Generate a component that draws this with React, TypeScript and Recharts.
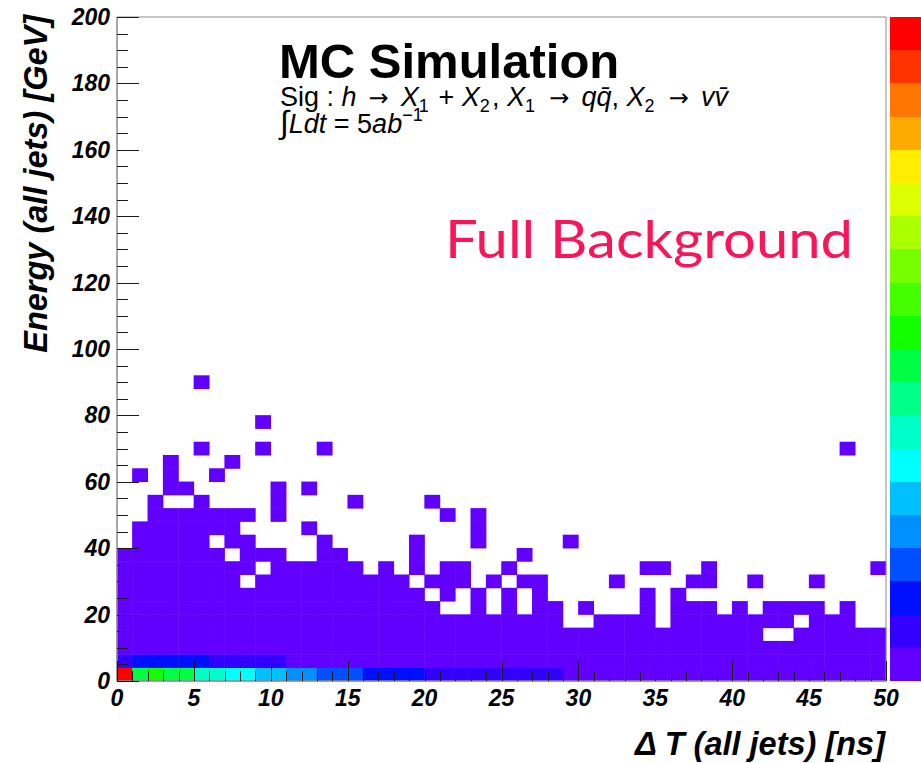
import { ScatterChart, Scatter, XAxis, YAxis, ReferenceArea } from 'recharts'

// 2D histogram: Delta T (1 ns bins, 0-50) vs jet energy (4 GeV bins, 0-200)
const NX = 50
const NY = 50
const DT_BIN = 1
const E_BIN = 4

// colour levels, lowest (violet) to highest (red)
const PALETTE = [
  '#6200ff', '#3300ff', '#0010ff', '#0050ff', '#0090ff',
  '#00c0ff', '#00ffff', '#00ffc8', '#00ff88', '#00ff44',
  '#11ff00', '#44ff00', '#77ff00', '#aaff00', '#ddff00',
  '#ffee00', '#ffaa00', '#ff7700', '#ff3300', '#ff0000',
]
const LEVEL_CODES = '0123456789ABCDEFGHIJ'

// one string per energy bin (row 0 = 0-4 GeV), one char per Delta T bin.
// '.' = empty bin, otherwise the colour level; grouped by 10 bins
const ROWS = [
  'J9A9977665 5443332222 1111111110 0000000000 0000000000',
  '1222221111 1000000000 0000000000 0000000000 0000000000',
  '0000000000 0000000000 0000000000 0000000000 0000000000',
  '0000000000 0000000000 0000000000 0000000000 00..000000',
  '0000000000 0000000000 000000000. .0000.0000 0000.000..',
  '0000000000 0000000000 0..0.0.00. 0...0.000. 0.0000.0..',
  '0000000000 0000000000 .0.0.0.0.. ....0.0... ..........',
  '00000000.0 000000000. 000.0.00.. ..0....00. .0...0....',
  '000000000. 000000.0.0 .00..0.... ....00..0. .........0',
  '0000000.00 0..00....0 ......0... .......... ..........',
  '.00000.00. ...0.....0 ...0.....0 .......... ..........',
  '.0000000.. ..0....... ...0...... .......... ..........',
  '..0000000. 0......... .0.0...... .......... ..........',
  '..0..0.... 0....0.... 0......... .......... ..........',
  '...00..... 0.0....... .......... .......... ..........',
  '.0.0..0... .......... .......... .......... ..........',
  '...0...0.. .......... .......... .......... ..........',
  '.....0...0 ...0...... .......... .......... .......0..',
  '.......... .......... .......... .......... ..........',
  '.........0 .......... .......... .......... ..........',
  '.......... .......... .......... .......... ..........',
  '.......... .......... .......... .......... ..........',
  '.....0.... .......... .......... .......... ..........',
]

const X_LABELS = [0, 5, 10, 15, 20, 25, 30, 35, 40, 45, 50]
const Y_LABELS = [0, 20, 40, 60, 80, 100, 120, 140, 160, 180, 200]
const X_TICKS = Array.from({ length: NX + 1 }, (_, i) => i * DT_BIN)
const Y_TICKS = Array.from({ length: 41 }, (_, i) => i * 5)

const cells = ROWS.flatMap((row, j) =>
  row.replace(/ /g, '').split('').flatMap((c, i) =>
    c === '.' ? [] : [{ dt: (i + 0.5) * DT_BIN, energy: (j + 0.5) * E_BIN, level: LEVEL_CODES.indexOf(c) }]
  )
)

const W = 921
const H = 763
const MARGIN = { top: 17, right: 35, bottom: 0, left: 0 }
const Y_AXIS_W = 117
const X_AXIS_H = 82
const PLOT_LEFT = MARGIN.left + Y_AXIS_W
const PLOT_RIGHT = W - MARGIN.right
const PLOT_TOP = MARGIN.top
const PLOT_BOTTOM = H - MARGIN.bottom - X_AXIS_H
const CELL_W = (PLOT_RIGHT - PLOT_LEFT) / NX
const CELL_H = (PLOT_BOTTOM - PLOT_TOP) / NY

const FONT = '"Liberation Sans", Arial, Helvetica, sans-serif'
const ARROW_FONT = '"DejaVu Sans", sans-serif'
const tickText = { fontFamily: FONT, fontSize: 23, fontWeight: 700, fontStyle: 'italic', fill: '#000' } as const
const TICK_STROKE = '#1a1a1a'

// snap 1px lines onto the pixel grid
const crisp = (v: number) => Math.round(v) + 0.5

function CellShape({ cx, cy, payload }: any) {
  return (
    <rect
      x={cx - CELL_W / 2 - 0.25}
      y={cy - CELL_H / 2 - 0.25}
      width={CELL_W + 0.5}
      height={CELL_H + 0.5}
      fill={PALETTE[payload.level]}
    />
  )
}

// the axis layer reuses the same points but draws nothing for them
const NoShape = () => <g />

function XTick({ x, payload }: any) {
  const v = payload.value
  const major = X_LABELS.includes(v)
  const px = crisp(x)
  return (
    <g>
      <line x1={px} x2={px} y1={PLOT_BOTTOM} y2={PLOT_BOTTOM - (major ? 20 : 10)} stroke={TICK_STROKE} strokeWidth={1} />
      {major && (
        <text x={x} y={706} textAnchor="middle" {...tickText}>{v}</text>
      )}
    </g>
  )
}

function YTick({ y, payload }: any) {
  const v = payload.value
  const major = Y_LABELS.includes(v)
  const py = crisp(y)
  return (
    <g>
      <line x1={PLOT_LEFT} x2={PLOT_LEFT + (major ? 22 : 11)} y1={py} y2={py} stroke={TICK_STROKE} strokeWidth={1} />
      {major && (
        <text x={PLOT_LEFT - 7} y={y + 8} textAnchor="end" {...tickText}>{v}</text>
      )}
    </g>
  )
}

const Sub = ({ children }: { children: string }) => (
  <>
    <tspan fontSize={18} dy={6}>{children}</tspan>
    <tspan dy={-6}>{'\u200A'}</tspan>
  </>
)

const Arrow = () => (
  <tspan fontFamily={ARROW_FONT} fontSize={24}>{'\u2002\u2192\u2002'}</tspan>
)

// both charts share the same layout so the axis layer lines up with the cells
function Axes({ visible }: { visible: boolean }) {
  return [
    <XAxis
      key="x"
      type="number"
      dataKey="dt"
      domain={[0, 50]}
      ticks={X_TICKS}
      interval={0}
      height={X_AXIS_H}
      axisLine={visible ? { stroke: '#8c8c8c' } : false}
      tickLine={false}
      tick={visible ? XTick : false}
    />,
    <YAxis
      key="y"
      type="number"
      dataKey="energy"
      domain={[0, 200]}
      ticks={Y_TICKS}
      interval={0}
      width={Y_AXIS_W}
      axisLine={visible ? { stroke: '#8c8c8c' } : false}
      tickLine={false}
      tick={visible ? YTick : false}
    />,
  ]
}

export default function App() {
  return (
    <div style={{ position: 'fixed', left: 0, top: 0, width: W, height: H, background: '#fff', overflow: 'hidden' }}>
      <div style={{ position: 'absolute', left: 0, top: 0, zIndex: 1 }}>
        <ScatterChart width={W} height={H} margin={MARGIN}>
          {Axes({ visible: false })}
          <Scatter data={cells} dataKey="energy" shape={CellShape} isAnimationActive={false} />
        </ScatterChart>
      </div>

      {/* axis layer drawn over the bins */}
      <div style={{ position: 'absolute', left: 0, top: 0, zIndex: 2 }}>
        <ScatterChart width={W} height={H} margin={MARGIN}>
          {Axes({ visible: true })}
          <Scatter data={cells} dataKey="energy" shape={NoShape} isAnimationActive={false} />
          <ReferenceArea x1={0} x2={50} y1={0} y2={200} fill="none" stroke="#8c8c8c" strokeWidth={1} />
        </ScatterChart>
      </div>

      {/* palette bar */}
      <div style={{ position: 'absolute', left: 890, top: PLOT_TOP, width: 40, height: PLOT_BOTTOM - PLOT_TOP, display: 'flex', flexDirection: 'column-reverse', zIndex: 3 }}>
        {PALETTE.map(c => (
          <div key={c} style={{ flex: 1, background: c }} />
        ))}
      </div>

      <svg width={W} height={H} style={{ position: 'absolute', left: 0, top: 0, pointerEvents: 'none', zIndex: 4 }}>
        <text x={279} y={78} fontFamily={FONT} fontSize={49} fontWeight={700} fill="#000">MC Simulation</text>
        <text x={280} y={106} fontFamily={FONT} fontSize={27} fill="#000">
          {'Sig : '}
          <tspan fontStyle="italic">h</tspan>
          <Arrow />
          <tspan fontStyle="italic">X</tspan>
          <Sub>1</Sub>
          {' + '}
          <tspan fontStyle="italic">X</tspan>
          <Sub>2</Sub>
          {', '}
          <tspan fontStyle="italic">X</tspan>
          <Sub>1</Sub>
          <Arrow />
          <tspan fontStyle="italic">{'q\u0071\u0304'}</tspan>
          {', '}
          <tspan fontStyle="italic">X</tspan>
          <Sub>2</Sub>
          <Arrow />
          <tspan fontStyle="italic">{'v\u0076\u0304'}</tspan>
        </text>
        <text x={280} y={133} fontFamily={FONT} fontSize={27} fill="#000">
          <tspan fontSize={32} fontStyle="italic">{'\u222B'}</tspan>
          <tspan fontStyle="italic">Ldt</tspan>
          {' = 5'}
          <tspan fontStyle="italic">ab</tspan>
          <tspan fontSize={18} dy={-12}>{'\u22121'}</tspan>
        </text>
        <text x={445} y={258} fontFamily="Lato, 'Open Sans', sans-serif" fontSize={52} fill="#fa1558" textLength={408} lengthAdjust="spacingAndGlyphs">
          Full Background
        </text>
        <text
          transform="translate(47, 15) rotate(-90)"
          textAnchor="end"
          fontFamily={FONT}
          fontSize={32.5}
          fontWeight={700}
          fontStyle="italic"
          fill="#000"
        >
          Energy (all jets) [GeV]
        </text>
        <text x={885} y={755} textAnchor="end" fontFamily={FONT} fontSize={32.5} fontWeight={700} fontStyle="italic" fill="#000">
          {'\u0394 T (all jets) [ns]'}
        </text>
      </svg>
    </div>
  )
}
